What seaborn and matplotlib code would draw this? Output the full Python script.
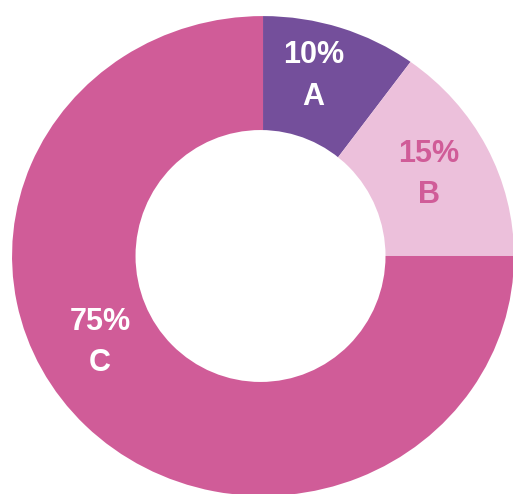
import matplotlib
matplotlib.use("Agg")
import matplotlib.pyplot as plt
from matplotlib.patches import Ellipse
import seaborn as sns

# data
categories = ["A", "B", "C"]
shares = [10, 15, 75]
colors = ["#744F9B", "#ECC0DB", "#D05C98"]
label_colors = ["white", "#D05C98", "white"]
# label centres in data units (outer radius = 1)
label_pos = [(0.20, 0.75), (0.66, 0.34), (-0.65, -0.36)]

sns.set_theme(style="white")
plt.rcParams["font.family"] = ["Liberation Sans", "DejaVu Sans"]

fig = plt.figure(figsize=(5.13, 4.94), dpi=100)
ax = fig.add_axes([0, 0, 1, 1])

ax.pie(shares, colors=colors, startangle=90, counterclock=False,
       radius=1, wedgeprops=dict(linewidth=0, antialiased=True))

# white hole in the middle
ax.add_patch(Ellipse((-0.01, 0.0), 250 / 251, 252 / 240, color="white", lw=0))

for cat, val, (x, y), c in zip(categories, shares, label_pos, label_colors):
    ax.text(x, y, f"{val}%\n{cat}", ha="center", va="center", color=c,
            fontsize=22, fontweight="bold", linespacing=1.5)

ax.set_aspect("auto")
ax.set_xlim(-1.048, 0.996)
ax.set_ylim(-0.992, 1.067)
ax.axis("off")

plt.savefig("out.png", dpi=100)
